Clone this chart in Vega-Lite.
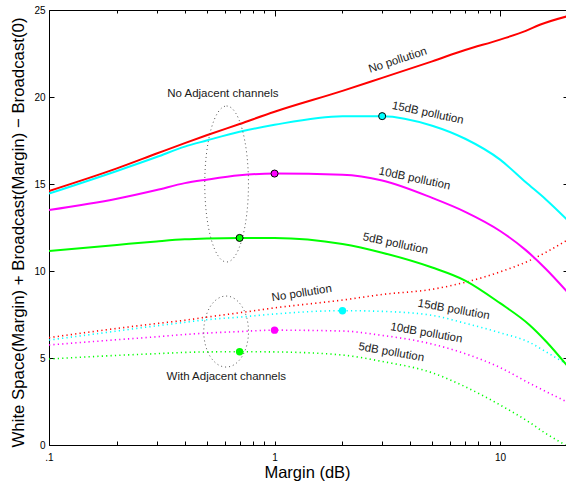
{
  "$schema": "https://vega.github.io/schema/vega-lite/v6.json",
  "autosize": "none",
  "width": 519,
  "height": 435,
  "padding": {"left": 49, "top": 10, "right": 0, "bottom": 36},
  "background": "white",
  "config": {
    "view": {"stroke": null},
    "font": "Liberation Sans",
    "axis": {"grid": false, "domainColor": "black", "tickColor": "black", "labelColor": "black", "titleColor": "black", "labelFont": "Liberation Sans", "titleFont": "Liberation Sans", "labelFontSize": 10, "titleFontSize": 16.5, "titleFontWeight": "normal"}
  },
  "datasets": {
    "curves": [
      {"margin": 0.1, "value": 14.6, "pollution": "No pollution", "adjacent": "no"},
      {"margin": 0.2, "value": 15.9, "pollution": "No pollution", "adjacent": "no"},
      {"margin": 0.3, "value": 16.75, "pollution": "No pollution", "adjacent": "no"},
      {"margin": 0.4, "value": 17.35, "pollution": "No pollution", "adjacent": "no"},
      {"margin": 0.5, "value": 17.8, "pollution": "No pollution", "adjacent": "no"},
      {"margin": 0.7, "value": 18.45, "pollution": "No pollution", "adjacent": "no"},
      {"margin": 1, "value": 19.15, "pollution": "No pollution", "adjacent": "no"},
      {"margin": 2, "value": 20.35, "pollution": "No pollution", "adjacent": "no"},
      {"margin": 3, "value": 21.1, "pollution": "No pollution", "adjacent": "no"},
      {"margin": 5, "value": 22.05, "pollution": "No pollution", "adjacent": "no"},
      {"margin": 7, "value": 22.7, "pollution": "No pollution", "adjacent": "no"},
      {"margin": 10, "value": 23.3, "pollution": "No pollution", "adjacent": "no"},
      {"margin": 13, "value": 23.8, "pollution": "No pollution", "adjacent": "no"},
      {"margin": 15, "value": 24.15, "pollution": "No pollution", "adjacent": "no"},
      {"margin": 20, "value": 24.65, "pollution": "No pollution", "adjacent": "no"},

      {"margin": 0.1, "value": 14.45, "pollution": "15dB", "adjacent": "no"},
      {"margin": 0.2, "value": 15.75, "pollution": "15dB", "adjacent": "no"},
      {"margin": 0.3, "value": 16.55, "pollution": "15dB", "adjacent": "no"},
      {"margin": 0.4, "value": 17.15, "pollution": "15dB", "adjacent": "no"},
      {"margin": 0.5, "value": 17.5, "pollution": "15dB", "adjacent": "no"},
      {"margin": 0.7, "value": 18.0, "pollution": "15dB", "adjacent": "no"},
      {"margin": 1, "value": 18.4, "pollution": "15dB", "adjacent": "no"},
      {"margin": 2, "value": 18.9, "pollution": "15dB", "adjacent": "no"},
      {"margin": 3, "value": 18.9, "pollution": "15dB", "adjacent": "no"},
      {"margin": 5, "value": 18.35, "pollution": "15dB", "adjacent": "no"},
      {"margin": 7, "value": 17.6, "pollution": "15dB", "adjacent": "no"},
      {"margin": 10, "value": 16.4, "pollution": "15dB", "adjacent": "no"},
      {"margin": 13, "value": 15.1, "pollution": "15dB", "adjacent": "no"},
      {"margin": 16, "value": 14.1, "pollution": "15dB", "adjacent": "no"},
      {"margin": 20, "value": 12.9, "pollution": "15dB", "adjacent": "no"},

      {"margin": 0.1, "value": 13.5, "pollution": "10dB", "adjacent": "no"},
      {"margin": 0.2, "value": 14.15, "pollution": "10dB", "adjacent": "no"},
      {"margin": 0.3, "value": 14.65, "pollution": "10dB", "adjacent": "no"},
      {"margin": 0.4, "value": 15.05, "pollution": "10dB", "adjacent": "no"},
      {"margin": 0.5, "value": 15.25, "pollution": "10dB", "adjacent": "no"},
      {"margin": 0.7, "value": 15.5, "pollution": "10dB", "adjacent": "no"},
      {"margin": 1, "value": 15.6, "pollution": "10dB", "adjacent": "no"},
      {"margin": 2, "value": 15.53, "pollution": "10dB", "adjacent": "no"},
      {"margin": 3, "value": 15.2, "pollution": "10dB", "adjacent": "no"},
      {"margin": 5, "value": 14.2, "pollution": "10dB", "adjacent": "no"},
      {"margin": 7, "value": 13.4, "pollution": "10dB", "adjacent": "no"},
      {"margin": 10, "value": 12.3, "pollution": "10dB", "adjacent": "no"},
      {"margin": 13, "value": 11.2, "pollution": "10dB", "adjacent": "no"},
      {"margin": 16, "value": 10.1, "pollution": "10dB", "adjacent": "no"},
      {"margin": 20, "value": 8.75, "pollution": "10dB", "adjacent": "no"},

      {"margin": 0.1, "value": 11.15, "pollution": "5dB", "adjacent": "no"},
      {"margin": 0.2, "value": 11.5, "pollution": "5dB", "adjacent": "no"},
      {"margin": 0.3, "value": 11.7, "pollution": "5dB", "adjacent": "no"},
      {"margin": 0.4, "value": 11.82, "pollution": "5dB", "adjacent": "no"},
      {"margin": 0.5, "value": 11.87, "pollution": "5dB", "adjacent": "no"},
      {"margin": 0.7, "value": 11.9, "pollution": "5dB", "adjacent": "no"},
      {"margin": 1, "value": 11.9, "pollution": "5dB", "adjacent": "no"},
      {"margin": 2, "value": 11.55, "pollution": "5dB", "adjacent": "no"},
      {"margin": 3, "value": 11.05, "pollution": "5dB", "adjacent": "no"},
      {"margin": 5, "value": 10.2, "pollution": "5dB", "adjacent": "no"},
      {"margin": 7, "value": 9.45, "pollution": "5dB", "adjacent": "no"},
      {"margin": 10, "value": 8.15, "pollution": "5dB", "adjacent": "no"},
      {"margin": 13.5, "value": 6.9, "pollution": "5dB", "adjacent": "no"},
      {"margin": 16, "value": 5.95, "pollution": "5dB", "adjacent": "no"},
      {"margin": 20, "value": 4.5, "pollution": "5dB", "adjacent": "no"},

      {"margin": 0.1, "value": 6.17, "pollution": "No pollution", "adjacent": "yes"},
      {"margin": 0.2, "value": 6.7, "pollution": "No pollution", "adjacent": "yes"},
      {"margin": 0.3, "value": 6.98, "pollution": "No pollution", "adjacent": "yes"},
      {"margin": 0.4, "value": 7.17, "pollution": "No pollution", "adjacent": "yes"},
      {"margin": 0.5, "value": 7.35, "pollution": "No pollution", "adjacent": "yes"},
      {"margin": 0.7, "value": 7.6, "pollution": "No pollution", "adjacent": "yes"},
      {"margin": 1, "value": 7.88, "pollution": "No pollution", "adjacent": "yes"},
      {"margin": 2, "value": 8.33, "pollution": "No pollution", "adjacent": "yes"},
      {"margin": 3, "value": 8.65, "pollution": "No pollution", "adjacent": "yes"},
      {"margin": 5, "value": 8.95, "pollution": "No pollution", "adjacent": "yes"},
      {"margin": 7, "value": 9.35, "pollution": "No pollution", "adjacent": "yes"},
      {"margin": 10, "value": 9.95, "pollution": "No pollution", "adjacent": "yes"},
      {"margin": 13.5, "value": 10.6, "pollution": "No pollution", "adjacent": "yes"},
      {"margin": 20, "value": 11.8, "pollution": "No pollution", "adjacent": "yes"},

      {"margin": 0.1, "value": 6.03, "pollution": "15dB", "adjacent": "yes"},
      {"margin": 0.2, "value": 6.55, "pollution": "15dB", "adjacent": "yes"},
      {"margin": 0.3, "value": 6.85, "pollution": "15dB", "adjacent": "yes"},
      {"margin": 0.4, "value": 7.05, "pollution": "15dB", "adjacent": "yes"},
      {"margin": 0.5, "value": 7.2, "pollution": "15dB", "adjacent": "yes"},
      {"margin": 0.7, "value": 7.35, "pollution": "15dB", "adjacent": "yes"},
      {"margin": 1, "value": 7.53, "pollution": "15dB", "adjacent": "yes"},
      {"margin": 2, "value": 7.72, "pollution": "15dB", "adjacent": "yes"},
      {"margin": 3, "value": 7.68, "pollution": "15dB", "adjacent": "yes"},
      {"margin": 5, "value": 7.45, "pollution": "15dB", "adjacent": "yes"},
      {"margin": 7, "value": 7.0, "pollution": "15dB", "adjacent": "yes"},
      {"margin": 10, "value": 6.45, "pollution": "15dB", "adjacent": "yes"},
      {"margin": 13.5, "value": 5.9, "pollution": "15dB", "adjacent": "yes"},
      {"margin": 16, "value": 5.35, "pollution": "15dB", "adjacent": "yes"},
      {"margin": 20, "value": 4.6, "pollution": "15dB", "adjacent": "yes"},

      {"margin": 0.1, "value": 5.75, "pollution": "10dB", "adjacent": "yes"},
      {"margin": 0.2, "value": 6.05, "pollution": "10dB", "adjacent": "yes"},
      {"margin": 0.3, "value": 6.22, "pollution": "10dB", "adjacent": "yes"},
      {"margin": 0.4, "value": 6.35, "pollution": "10dB", "adjacent": "yes"},
      {"margin": 0.5, "value": 6.43, "pollution": "10dB", "adjacent": "yes"},
      {"margin": 0.7, "value": 6.52, "pollution": "10dB", "adjacent": "yes"},
      {"margin": 1, "value": 6.6, "pollution": "10dB", "adjacent": "yes"},
      {"margin": 2, "value": 6.55, "pollution": "10dB", "adjacent": "yes"},
      {"margin": 3, "value": 6.3, "pollution": "10dB", "adjacent": "yes"},
      {"margin": 5, "value": 5.8, "pollution": "10dB", "adjacent": "yes"},
      {"margin": 7, "value": 5.25, "pollution": "10dB", "adjacent": "yes"},
      {"margin": 10, "value": 4.45, "pollution": "10dB", "adjacent": "yes"},
      {"margin": 13.5, "value": 3.55, "pollution": "10dB", "adjacent": "yes"},
      {"margin": 20, "value": 2.45, "pollution": "10dB", "adjacent": "yes"},

      {"margin": 0.1, "value": 4.94, "pollution": "5dB", "adjacent": "yes"},
      {"margin": 0.2, "value": 5.15, "pollution": "5dB", "adjacent": "yes"},
      {"margin": 0.3, "value": 5.25, "pollution": "5dB", "adjacent": "yes"},
      {"margin": 0.4, "value": 5.32, "pollution": "5dB", "adjacent": "yes"},
      {"margin": 0.5, "value": 5.35, "pollution": "5dB", "adjacent": "yes"},
      {"margin": 0.7, "value": 5.36, "pollution": "5dB", "adjacent": "yes"},
      {"margin": 1, "value": 5.35, "pollution": "5dB", "adjacent": "yes"},
      {"margin": 2, "value": 5.17, "pollution": "5dB", "adjacent": "yes"},
      {"margin": 3, "value": 4.8, "pollution": "5dB", "adjacent": "yes"},
      {"margin": 5, "value": 4.15, "pollution": "5dB", "adjacent": "yes"},
      {"margin": 7, "value": 3.35, "pollution": "5dB", "adjacent": "yes"},
      {"margin": 10, "value": 2.3, "pollution": "5dB", "adjacent": "yes"},
      {"margin": 13.5, "value": 1.3, "pollution": "5dB", "adjacent": "yes"},
      {"margin": 16, "value": 0.65, "pollution": "5dB", "adjacent": "yes"},
      {"margin": 19.5, "value": 0.0, "pollution": "5dB", "adjacent": "yes"}
    ],
    "markers": [
      {"margin": 3, "value": 18.9, "pollution": "15dB", "adjacent": "no"},
      {"margin": 1, "value": 15.6, "pollution": "10dB", "adjacent": "no"},
      {"margin": 0.7, "value": 11.9, "pollution": "5dB", "adjacent": "no"},
      {"margin": 2, "value": 7.72, "pollution": "15dB", "adjacent": "yes"},
      {"margin": 1, "value": 6.6, "pollution": "10dB", "adjacent": "yes"},
      {"margin": 0.7, "value": 5.36, "pollution": "5dB", "adjacent": "yes"}
    ],
    "labels": [
      {"margin": 3.52, "value": 22.1, "text": "No pollution", "group": "solidNone"},
      {"margin": 4.78, "value": 19.06, "text": "15dB pollution", "group": "solidPolluted"},
      {"margin": 4.17, "value": 15.29, "text": "10dB pollution", "group": "solidPolluted"},
      {"margin": 3.43, "value": 11.55, "text": "5dB pollution", "group": "solidPolluted"},
      {"margin": 0.59, "value": 20.2, "text": "No Adjacent channels", "group": "caption"},
      {"margin": 0.611, "value": 3.93, "text": "With Adjacent channels", "group": "caption"},
      {"margin": 1.32, "value": 8.7, "text": "No pollution", "group": "dottedNone"},
      {"margin": 6.23, "value": 7.76, "text": "15dB pollution", "group": "dottedPolluted"},
      {"margin": 4.71, "value": 6.42, "text": "10dB pollution", "group": "dottedPolluted"},
      {"margin": 3.29, "value": 5.31, "text": "5dB pollution", "group": "dottedPolluted"}
    ],
    "ellipses": [
      {"margin": 0.613, "value": 15.0, "name": "no adjacent"},
      {"margin": 0.61, "value": 6.52, "name": "with adjacent"}
    ]
  },
  "resolve": {"axis": {"x": "independent", "y": "independent"}},
  "layer": [
    {
      "data": {"name": "curves"},
      "transform": [{"filter": "datum.adjacent == 'yes'"}],
      "mark": {"type": "line", "strokeWidth": 1.6, "strokeDash": [1.2, 3.2], "clip": true, "interpolate": "monotone"},
      "encoding": {
        "x": {"field": "margin", "type": "quantitative", "scale": {"type": "log", "domain": [0.1, 20], "nice": false, "zero": false},
          "axis": {"orient": "bottom", "title": "Margin (dB)", "values": [0.1, 0.2, 0.3, 0.4, 0.5, 0.6, 0.7, 0.8, 0.9, 1, 2, 3, 4, 5, 6, 7, 8, 9, 10, 20],
            "labelExpr": "datum.value == 0.1 ? '.1' : (datum.value == 1 ? '1' : (datum.value == 10 ? '10' : ''))",
            "labelOverlap": false, "labelBound": false, "labelFlush": false, "labelPadding": 11, "labelBaseline": "top",
            "tickSize": -4,
            "titleY": 27, "titleBaseline": "middle", "titleX": 258, "titleFontSize": 16.5}},
        "y": {"field": "value", "type": "quantitative", "scale": {"domain": [0, 25], "nice": false},
          "axis": {"orient": "left", "title": "White Space(Margin) + Broadcast(Margin) − Broadcast(0)", "values": [0, 5, 10, 15, 20, 25], "tickSize": -5, "labelPadding": 9,
            "titleX": -31, "titleY": 222, "titleBaseline": "middle", "titleAngle": -90, "titleFontSize": 16.8}},
        "color": {"field": "pollution", "type": "nominal", "legend": null,
          "scale": {"domain": ["No pollution", "15dB", "10dB", "5dB"], "range": ["#ff0000", "#00ffff", "#ff00ff", "#00ff00"]}},
        "detail": {"field": "pollution"}
      }
    },
    {
      "data": {"name": "curves"},
      "transform": [{"filter": "datum.adjacent == 'no'"}],
      "mark": {"type": "line", "strokeWidth": 2, "clip": true, "interpolate": "monotone"},
      "encoding": {
        "x": {"field": "margin", "type": "quantitative", "axis": {"orient": "top", "title": null, "labels": false, "domainColor": "black",
          "values": [0.1, 0.2, 0.3, 0.4, 0.5, 0.6, 0.7, 0.8, 0.9, 1, 2, 3, 4, 5, 6, 7, 8, 9, 10, 20],
          "tickSize": {"condition": {"test": "datum.value == 0.1 || datum.value == 1 || datum.value == 10", "value": -6}, "value": -3}}},
        "y": {"field": "value", "type": "quantitative", "axis": {"orient": "right", "title": null, "labels": false, "values": [0, 5, 10, 15, 20, 25], "tickSize": -5}},
        "color": {"field": "pollution", "type": "nominal", "legend": null},
        "detail": {"field": "pollution"}
      }
    },
    {
      "data": {"name": "ellipses"},
      "transform": [{"filter": "datum.name == 'no adjacent'"}],
      "mark": {"type": "point", "filled": false, "shape": "M 0 -1 A 0.28 1 0 1 1 0 1 A 0.28 1 0 1 1 0 -1 Z", "size": 24336, "stroke": "#555555", "strokeWidth": 1, "strokeDash": [1, 3], "opacity": 1},
      "encoding": {
        "x": {"field": "margin", "type": "quantitative", "axis": null},
        "y": {"field": "value", "type": "quantitative", "axis": null}
      }
    },
    {
      "data": {"name": "ellipses"},
      "transform": [{"filter": "datum.name == 'with adjacent'"}],
      "mark": {"type": "point", "filled": false, "shape": "M 0 -1 A 0.63 1 0 1 1 0 1 A 0.63 1 0 1 1 0 -1 Z", "size": 5041, "stroke": "#555555", "strokeWidth": 1, "strokeDash": [1, 3], "opacity": 1},
      "encoding": {
        "x": {"field": "margin", "type": "quantitative", "axis": null},
        "y": {"field": "value", "type": "quantitative", "axis": null}
      }
    },
    {
      "data": {"name": "markers"},
      "transform": [{"filter": "datum.adjacent == 'no'"}],
      "mark": {"type": "point", "shape": "circle", "filled": true, "size": 50, "stroke": "black", "strokeWidth": 1, "opacity": 1},
      "encoding": {
        "x": {"field": "margin", "type": "quantitative", "axis": null},
        "y": {"field": "value", "type": "quantitative", "axis": null},
        "fill": {"field": "pollution", "type": "nominal", "legend": null,
          "scale": {"domain": ["No pollution", "15dB", "10dB", "5dB"], "range": ["#ff0000", "#00ffff", "#ff00ff", "#00ff00"]}}
      }
    },
    {
      "data": {"name": "markers"},
      "transform": [{"filter": "datum.adjacent == 'yes'"}],
      "mark": {"type": "point", "shape": "circle", "filled": true, "size": 55, "opacity": 1},
      "encoding": {
        "x": {"field": "margin", "type": "quantitative", "axis": null},
        "y": {"field": "value", "type": "quantitative", "axis": null},
        "fill": {"field": "pollution", "type": "nominal", "legend": null}
      }
    },
    {
      "data": {"name": "labels"},
      "transform": [{"filter": "datum.group == 'solidNone'"}],
      "mark": {"type": "text", "angle": -18, "fontSize": 11.5, "font": "Liberation Sans", "color": "#1a1a1a", "align": "center", "baseline": "middle"},
      "encoding": {
        "x": {"field": "margin", "type": "quantitative", "axis": null},
        "y": {"field": "value", "type": "quantitative", "axis": null},
        "text": {"field": "text"}
      }
    },
    {
      "data": {"name": "labels"},
      "transform": [{"filter": "datum.group == 'solidPolluted'"}],
      "mark": {"type": "text", "angle": 12, "fontSize": 11.5, "font": "Liberation Sans", "color": "#1a1a1a", "align": "center", "baseline": "middle"},
      "encoding": {
        "x": {"field": "margin", "type": "quantitative", "axis": null},
        "y": {"field": "value", "type": "quantitative", "axis": null},
        "text": {"field": "text"}
      }
    },
    {
      "data": {"name": "labels"},
      "transform": [{"filter": "datum.group == 'caption'"}],
      "mark": {"type": "text", "angle": 0, "fontSize": 11.5, "font": "Liberation Sans", "color": "#1a1a1a", "align": "center", "baseline": "middle"},
      "encoding": {
        "x": {"field": "margin", "type": "quantitative", "axis": null},
        "y": {"field": "value", "type": "quantitative", "axis": null},
        "text": {"field": "text"}
      }
    },
    {
      "data": {"name": "labels"},
      "transform": [{"filter": "datum.group == 'dottedNone'"}],
      "mark": {"type": "text", "angle": -9, "fontSize": 11.5, "font": "Liberation Sans", "color": "#1a1a1a", "align": "center", "baseline": "middle"},
      "encoding": {
        "x": {"field": "margin", "type": "quantitative", "axis": null},
        "y": {"field": "value", "type": "quantitative", "axis": null},
        "text": {"field": "text"}
      }
    },
    {
      "data": {"name": "labels"},
      "transform": [{"filter": "datum.group == 'dottedPolluted'"}],
      "mark": {"type": "text", "angle": 10, "fontSize": 11.5, "font": "Liberation Sans", "color": "#1a1a1a", "align": "center", "baseline": "middle"},
      "encoding": {
        "x": {"field": "margin", "type": "quantitative", "axis": null},
        "y": {"field": "value", "type": "quantitative", "axis": null},
        "text": {"field": "text"}
      }
    }
  ]
}
